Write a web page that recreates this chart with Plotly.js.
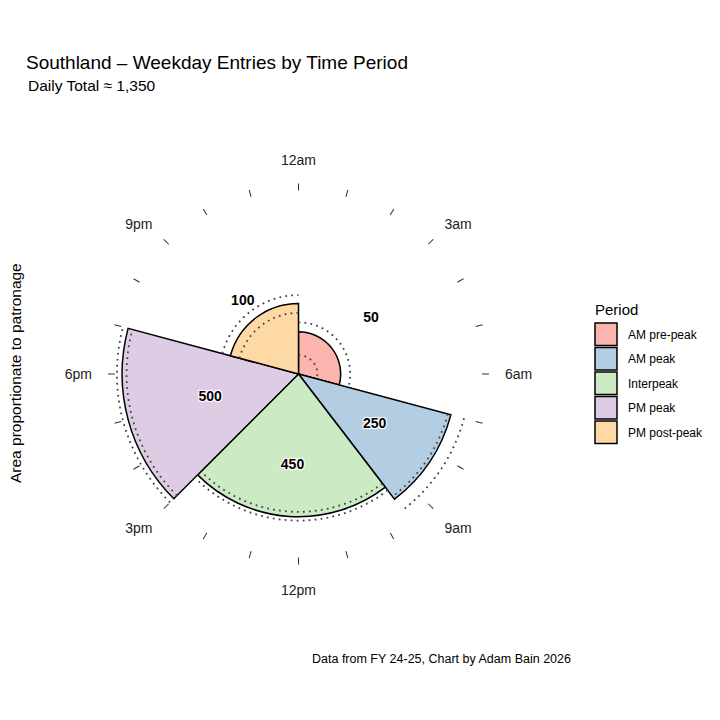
<!DOCTYPE html>
<html>
<head>
<meta charset="utf-8">
<script src="https://cdn.plot.ly/plotly-3.0.1.min.js"></script>
<style>
  html, body { margin: 0; padding: 0; background: #fff; }
  #myDiv { width: 720px; height: 720px; }
</style>
</head>
<body>
<div id="myDiv"></div>
<script>
// chart values
var periods = ["AM pre-peak", "AM peak", "Interpeak", "PM peak", "PM post-peak"];
var startHour = [0, 7, 9.5, 15, 19];
var endHour = [7, 9.5, 15, 19, 24];
var entries = [50, 250, 450, 500, 100];
var entriesLow = [10, 240, 420, 475, 75];
var entriesHigh = [75, 295, 475, 530, 125];
var colours = ["#FBB4AE", "#B3CDE3", "#CCEBC5", "#DECBE4", "#FED9A6"];
var hourLabels = ["12am", "3am", "6am", "9am", "12pm", "3pm", "6pm", "9pm"];

var font = "Liberation Sans, Arial, sans-serif";

// px helpers (page is 720 x 720, no margins)
function fx(p) { return p / 720; }
function fy(p) { return 1 - p / 720; }

// area proportional to patronage -> radius = sqrt(entries per hour)
function radius(v, i) { return Math.sqrt(v / (endHour[i] - startHour[i])); }
function midAngle(s, i) { return (s + endHour[i]) / 2 * 15; }

var rMax = 11.6;
var data = [];

data.push({
  type: "barpolar",
  r: entries.map(radius),
  theta: startHour.map(midAngle),
  width: startHour.map(function (s, i) { return (endHour[i] - s) * 15; }),
  marker: { color: colours, line: { color: "#000", width: 1.5 } },
  showlegend: false,
  hoverinfo: "skip"
});

// dotted low / high arcs
[entriesLow, entriesHigh].forEach(function (arr) {
  for (var i = 0; i < periods.length; i++) {
    var th = [], rr = [];
    var r0 = radius(arr[i], i);
    for (var a = startHour[i] * 15; a <= endHour[i] * 15 + 0.001; a += 1) {
      th.push(a);
      rr.push(r0);
    }
    data.push({
      type: "scatterpolar",
      mode: "lines",
      r: rr,
      theta: th,
      line: { color: "#444", width: 1.8, dash: "1.8px,4.2px" },
      showlegend: false,
      hoverinfo: "skip"
    });
  }
});

// value labels
var labelR = 5.8;
data.push({
  type: "scatterpolar",
  mode: "text",
  r: entries.map(function () { return labelR; }),
  theta: startHour.map(midAngle),
  text: entries.map(String),
  textfont: {
    family: font, size: 14, color: "#000", weight: "bold",
    shadow: "1px 1px 1px #fff, -1px -1px 1px #fff, 1px -1px 1px #fff, -1px 1px 1px #fff"
  },
  showlegend: false,
  hoverinfo: "skip"
});

// placeholder so the outer (label only) polar gets drawn
data.push({
  type: "scatterpolar",
  subplot: "polar2",
  mode: "markers",
  r: [0],
  theta: [0],
  marker: { opacity: 0 },
  showlegend: false,
  hoverinfo: "skip"
});

var tickvals = [];
for (var h = 0; h < 24; h++) tickvals.push(h * 15);

// manual legend
var shapes = [];
var annotations = [];
annotations.push({
  text: "Period", x: fx(593), y: fy(309), xref: "paper", yref: "paper",
  xanchor: "left", yanchor: "middle", showarrow: false,
  font: { family: font, size: 15, color: "#000" }
});
for (var i = 0; i < periods.length; i++) {
  var rowTop = 323 + i * 24.5;
  shapes.push({
    type: "rect", xref: "paper", yref: "paper",
    x0: fx(595), x1: fx(617), y0: fy(rowTop), y1: fy(rowTop + 22.5),
    fillcolor: colours[i], line: { color: "#000", width: 1.5 }
  });
  annotations.push({
    text: periods[i], x: fx(626), y: fy(rowTop + 11.5), xref: "paper", yref: "paper",
    xanchor: "left", yanchor: "middle", showarrow: false,
    font: { family: font, size: 12, color: "#000" }
  });
}

annotations.push({
  text: "Daily Total ≈ 1,350", x: fx(26), y: fy(85), xref: "paper", yref: "paper",
  xanchor: "left", yanchor: "middle", showarrow: false,
  font: { family: font, size: 15.5, color: "#000" }
});
annotations.push({
  text: "Area proportionate to patronage", x: fx(15), y: fy(373), xref: "paper", yref: "paper",
  xanchor: "center", yanchor: "middle", showarrow: false, textangle: -90,
  font: { family: font, size: 15.5, color: "#000" }
});
annotations.push({
  text: "Data from FY 24-25, Chart by Adam Bain 2026", x: fx(441), y: fy(659), xref: "paper", yref: "paper",
  xanchor: "center", yanchor: "middle", showarrow: false,
  font: { family: font, size: 12.5, color: "#000" }
});

var R = 183, R2 = 206, cx = 298.5, cy = 374;
var layout = {
  width: 720,
  height: 720,
  margin: { t: 0, b: 0, l: 0, r: 0 },
  paper_bgcolor: "#fff",
  showlegend: false,
  font: { family: font, color: "#000" },
  title: {
    text: "Southland – Weekday Entries by Time Period",
    x: fx(26), xanchor: "left", xref: "paper",
    y: fy(62), yanchor: "middle", yref: "container",
    font: { family: font, size: 19, color: "#000" }
  },
  polar: {
    domain: { x: [fx(cx - R), fx(cx + R)], y: [fy(cy + R), fy(cy - R)] },
    bgcolor: "#fff",
    bargap: 0,
    radialaxis: { visible: false, range: [0, rMax] },
    angularaxis: {
      rotation: 90,
      direction: "clockwise",
      tickmode: "array",
      tickvals: tickvals,
      showticklabels: false,
      ticks: "outside",
      ticklen: 7,
      tickwidth: 1,
      tickcolor: "#333",
      showline: false,
      showgrid: false
    }
  },
  polar2: {
    domain: { x: [fx(cx - R2), fx(cx + R2)], y: [fy(cy + R2), fy(cy - R2)] },
    bgcolor: "rgba(0,0,0,0)",
    radialaxis: { visible: false, range: [0, 1] },
    angularaxis: {
      rotation: 90,
      direction: "clockwise",
      tickmode: "array",
      tickvals: hourLabels.map(function (l, i) { return i * 45; }),
      ticktext: hourLabels,
      ticks: "",
      showline: false,
      showgrid: false,
      tickfont: { family: font, size: 14, color: "#222" }
    }
  },
  shapes: shapes,
  annotations: annotations
};

Plotly.newPlot("myDiv", data, layout, { staticPlot: true });
</script>
</body>
</html>
